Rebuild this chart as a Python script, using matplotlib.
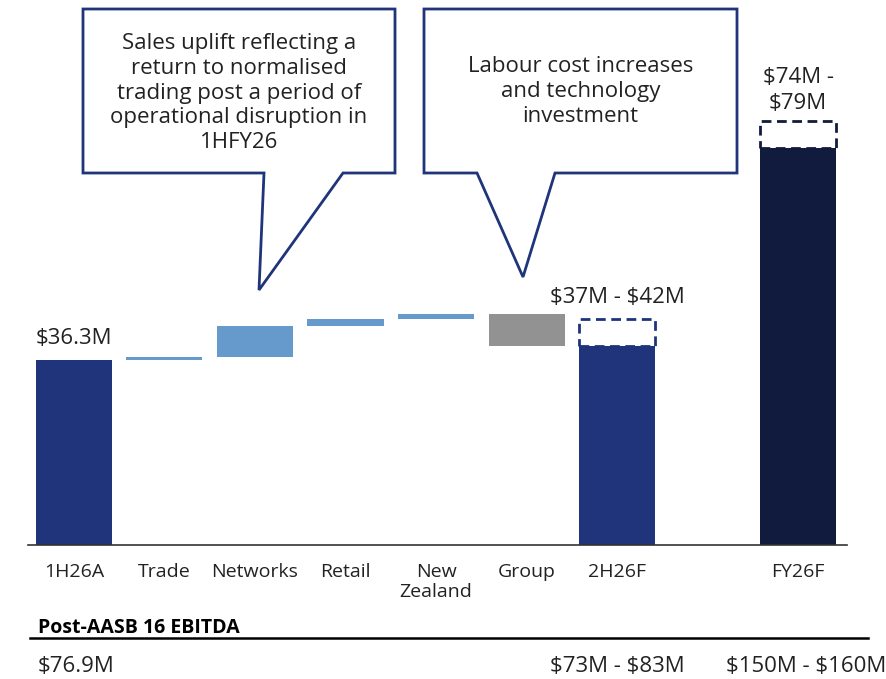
import matplotlib
matplotlib.use("Agg")
import matplotlib.pyplot as plt
from matplotlib.patches import Polygon
from matplotlib.lines import Line2D

plt.rcParams['font.family'] = ['Open Sans', 'DejaVu Sans']
plt.rcParams['text.parse_math'] = False

# waterfall data, $M
categories = ['1H26A', 'Trade', 'Networks', 'Retail', 'New\nZealand', 'Group', '2H26F', 'FY26F']
positions = [0, 1, 2, 3, 4, 5, 6, 8]
start_value = 34.45
steps = [0.55, 5.8, 1.3, 0.9, -6.0]
step_colors = ['#6699CC', '#6699CC', '#6699CC', '#6699CC', '#929292']
h2_low, h2_high = 37.0, 42.0
fy_low, fy_high = 74.0, 79.0

bar_labels = ['$36.3M', '$37M - $42M', '$74M -\n$79M']
ebitda_labels = ['$76.9M', '$73M - $83M', '$150M - $160M']
note_left = ("Sales uplift reflecting a\nreturn to normalised\ntrading post a period of\n"
             "operational disruption in\n1HFY26")
note_right = "Labour cost increases\nand technology\ninvestment"

navy = '#1F347A'
dark_navy = '#111B3D'
txt = '#222222'

W, H = 887, 679
fig = plt.figure(figsize=(W / 100, H / 100), dpi=100)
ax = fig.add_axes([28 / W, 1 - 545 / H, (847 - 28) / W, 545 / H])
ax.set_xlim(-0.508, 8.541)
ax.set_ylim(0, 101.5)

bw = 0.84
# opening bar
ax.bar(positions[0], start_value, width=bw, color=navy)
# movements
running = start_value
for i, s in enumerate(steps):
    ax.bar(positions[i + 1], s, bottom=running, width=bw, color=step_colors[i])
    running += s
# 2H26F
ax.bar(positions[6], h2_low, width=bw, color=navy)
ax.bar(positions[6], h2_high - h2_low, bottom=h2_low, width=bw, fill=False,
       edgecolor=navy, linewidth=2, linestyle=(0, (3.5, 2)))
# FY26F
ax.bar(positions[7], fy_low, width=bw, color=dark_navy)
ax.bar(positions[7], fy_high - fy_low, bottom=fy_low, width=bw, fill=False,
       edgecolor=dark_navy, linewidth=2, linestyle=(0, (3.5, 2)))

# value labels above bars
ax.text(positions[0], start_value + 2.0, bar_labels[0], ha='center', va='bottom', fontsize=16, color=txt)
ax.text(positions[6], h2_high + 2.2, bar_labels[1], ha='center', va='bottom', fontsize=16, color=txt)
ax.text(positions[7], fy_high + 1.3, bar_labels[2], ha='center', va='bottom', fontsize=16, color=txt,
        linespacing=1.3)

ax.set_xticks(positions)
ax.set_xticklabels(categories, fontsize=14, color=txt, linespacing=1.15)
ax.tick_params(axis='x', length=0, pad=13)
ax.set_yticks([])
for sp in ['top', 'left', 'right']:
    ax.spines[sp].set_visible(False)
ax.spines['bottom'].set_color('#333333')
ax.spines['bottom'].set_linewidth(1.2)


def px(x, y):
    return (x / W, 1 - y / H)


# callout bubbles (pixel layout)
def bubble(box, tail, text, text_y):
    x0, y0, x1, y1 = box
    t0, tip, t1 = tail
    pts = [px(x0, y0), px(x1, y0), px(x1, y1), px(t1, y1), px(*tip), px(t0, y1), px(x0, y1)]
    poly = Polygon(pts, closed=True, transform=fig.transFigure, facecolor='white',
                   edgecolor=navy, linewidth=2)
    fig.add_artist(poly)
    fig.text(*px((x0 + x1) / 2, text_y), text, ha='center', va='center', fontsize=16,
             color=txt, linespacing=1.25)


bubble((83, 9, 395, 173), (264, (259, 290), 343), note_left, 93)
bubble((424, 9, 737, 173), (477, (523, 277), 555), note_right, 92)

# EBITDA table underneath
fig.text(*px(38, 628), 'Post-AASB 16 EBITDA', ha='left', va='center', fontsize=14,
         fontweight='bold', color='black')
fig.add_artist(Line2D([30 / W, 868 / W], [1 - 638 / H, 1 - 638 / H], transform=fig.transFigure,
                      color='black', linewidth=1.8))
fig.text(*px(38, 667), ebitda_labels[0], ha='left', va='center', fontsize=16, color=txt)
fig.text(*px(617, 667), ebitda_labels[1], ha='center', va='center', fontsize=16, color=txt)
fig.text(*px(806, 667), ebitda_labels[2], ha='center', va='center', fontsize=16, color=txt)

fig.savefig('out.png', dpi=100)
